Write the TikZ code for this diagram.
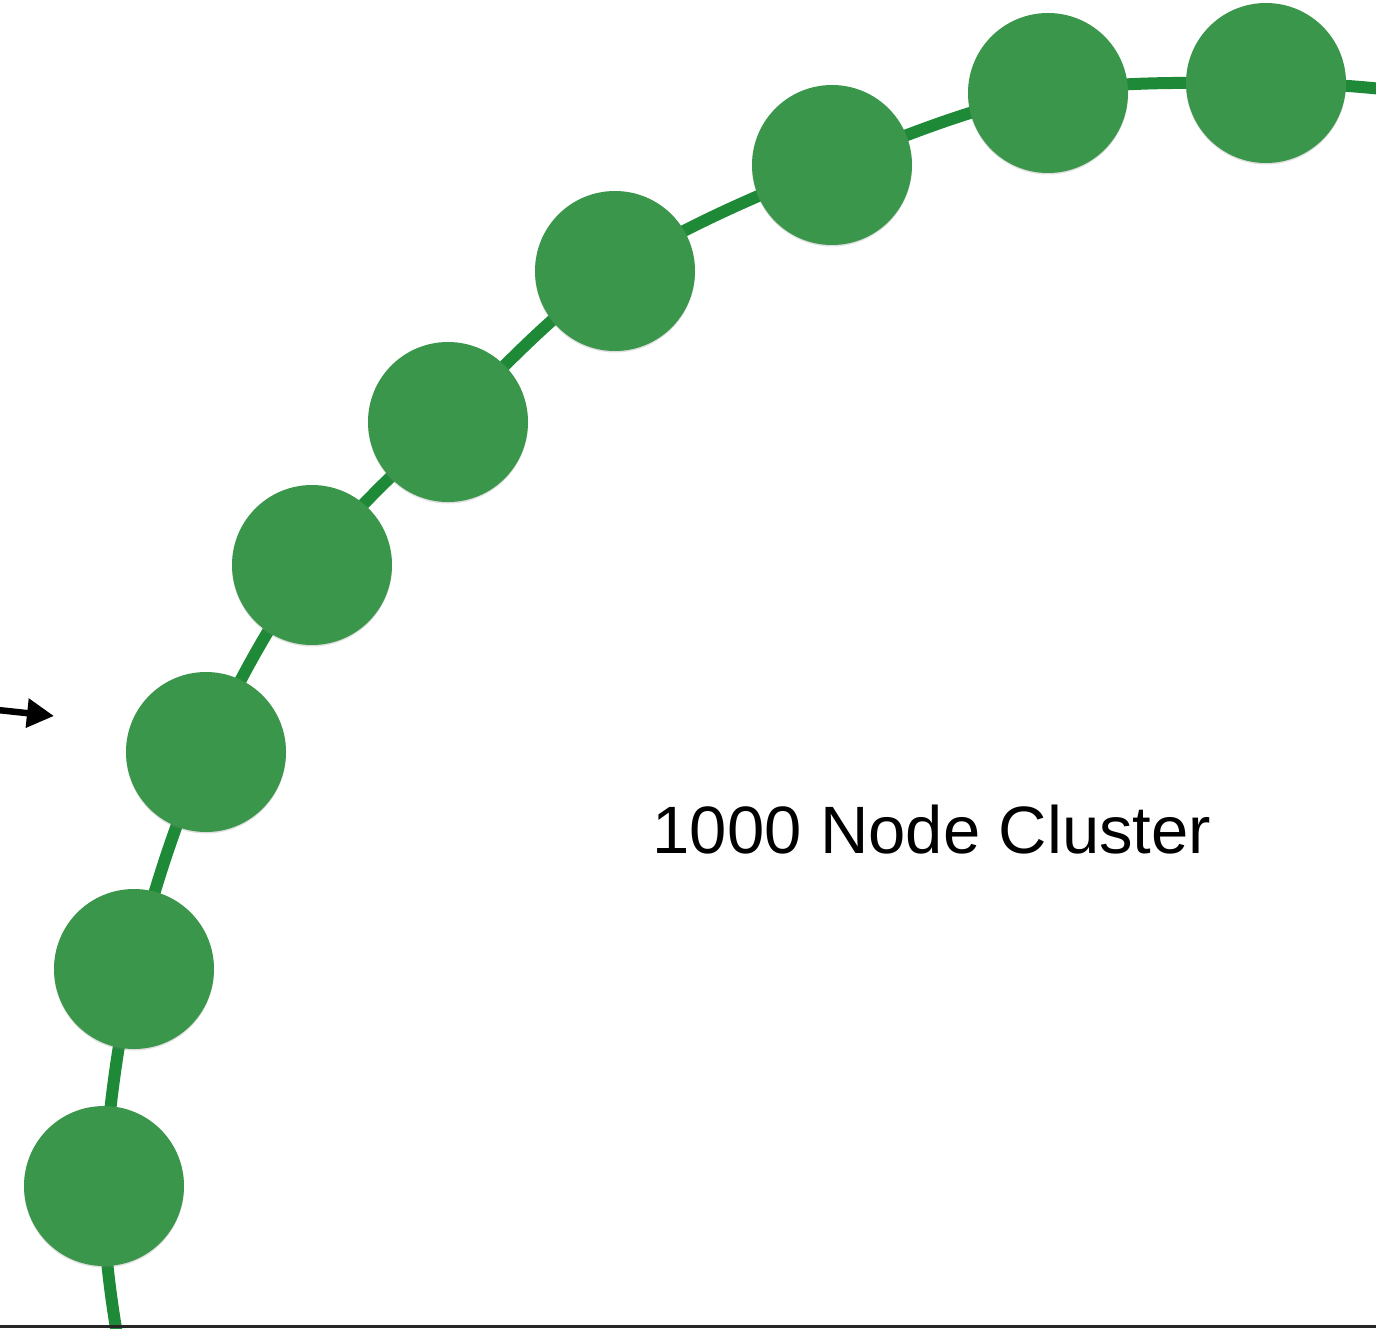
\documentclass[tikz,border=0pt]{standalone}
\usepackage{fontspec}
\setmainfont{Liberation Sans}
\usetikzlibrary{shadows,arrows.meta}
\definecolor{ringgreen}{RGB}{30,138,56}
\definecolor{nodegreen}{RGB}{58,150,74}
\tikzset{
  member/.style={circle, fill=nodegreen, minimum size=160pt, inner sep=0pt,
    drop shadow={opacity=0.25, shadow xshift=0pt, shadow yshift=-1.5pt}},
  ring/.style={draw=ringgreen, line width=12pt},
  pointer/.style={draw=black, line width=6.5pt, -{Triangle[length=27pt,width=28pt]}}
}
\begin{document}
\begin{tikzpicture}[x=1pt,y=-1pt]
  \useasboundingbox[fill=white] (0,0) rectangle (1376,1328);
  % ring members
  \coordinate (p1) at (1266,83);
  \coordinate (p2) at (1048,93);
  \coordinate (p3) at (832,165);
  \coordinate (p4) at (615,271);
  \coordinate (p5) at (448,422);
  \coordinate (p6) at (312,565);
  \coordinate (p7) at (206,752);
  \coordinate (p8) at (134,969);
  \coordinate (p9) at (104,1186);
  % the ring, running off the right and bottom edges
  \draw[ring] plot[smooth, tension=0.6] coordinates
    {(1382,89) (1266,83) (1048,93) (832,165) (615,271) (448,422) (312,565)
     (206,752) (134,969) (104,1186) (117,1334)};
  \foreach \i in {1,...,9} \node[member] (n\i) at (p\i) {};
  % label
  \node[font=\fontsize{67}{80}\selectfont, anchor=center] (label) at (932,830) {1000 Node Cluster};
  % incoming pointer
  \coordinate (ptail) at (-2,710);
  \coordinate (phead) at (54,716);
  \draw[pointer] (ptail) -- (phead);
  % frame edge at the bottom
  \coordinate (fl) at (0,1326.5);
  \coordinate (fr) at (1376,1326.5);
  \draw[line width=3pt, black!85] (fl) -- (fr);
\end{tikzpicture}
\end{document}
